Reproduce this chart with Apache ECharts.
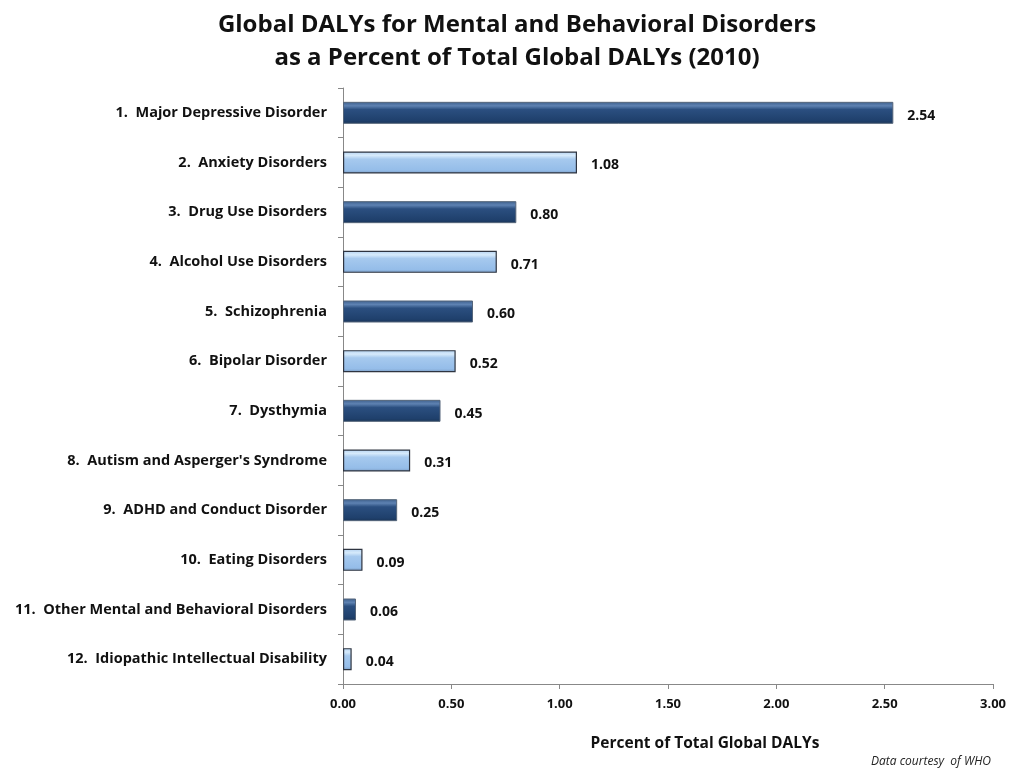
<!DOCTYPE html>
<html>
<head>
<meta charset="utf-8">
<script src="https://cdn.jsdelivr.net/npm/echarts@6/dist/echarts.min.js"></script>
<style>
html, body { margin: 0; padding: 0; background: #fff; }
#chart { width: 1014px; height: 769px; }
</style>
</head>
<body>
<div id="chart"></div>
<script>
const categories = [
	'1.  Major Depressive Disorder',
	'2.  Anxiety Disorders',
	'3.  Drug Use Disorders',
	'4.  Alcohol Use Disorders',
	'5.  Schizophrenia',
	'6.  Bipolar Disorder',
	'7.  Dysthymia',
	"8.  Autism and Asperger's Syndrome",
	'9.  ADHD and Conduct Disorder',
	'10.  Eating Disorders',
	'11.  Other Mental and Behavioral Disorders',
	'12.  Idiopathic Intellectual Disability'
];
const values = [2.54, 1.08, 0.80, 0.71, 0.60, 0.52, 0.45, 0.31, 0.25, 0.09, 0.06, 0.04];
const xTicks = [0, 0.5, 1, 1.5, 2, 2.5, 3];

const font = '"Open Sans", Lato, sans-serif';

// alternating dark / light bars with a glossy top edge
const darkFill = new echarts.graphic.LinearGradient(0, 0, 0, 1, [
	{offset: 0, color: '#3d5f8c'},
	{offset: 0.18, color: '#5e82b2'},
	{offset: 0.35, color: '#2b4f80'},
	{offset: 0.85, color: '#1f406c'},
	{offset: 1, color: '#1a3558'}
]);
const lightFill = new echarts.graphic.LinearGradient(0, 0, 0, 1, [
	{offset: 0, color: '#b5d3f2'},
	{offset: 0.18, color: '#d6eafb'},
	{offset: 0.35, color: '#a6c9ee'},
	{offset: 0.85, color: '#95bde9'},
	{offset: 1, color: '#7c9cc2'}
]);

const barData = values.map((v, i) => ({
	value: v,
	itemStyle: i % 2 == 0
		? {color: darkFill, borderColor: '#55657a', borderWidth: 1}
		: {color: lightFill, borderColor: '#2e3440', borderWidth: 1.2}
}));

const chart = echarts.init(document.getElementById('chart'));
chart.setOption({
	animation: false,
	textStyle: {fontFamily: font},
	title: [{
		text: 'Global DALYs for Mental and Behavioral Disorders\nas a Percent of Total Global DALYs (2010)',
		left: 512,
		top: 4,
		textAlign: 'center',
		textStyle: {fontFamily: font, fontSize: 24, fontWeight: 'bold', color: '#111', lineHeight: 33}
	}, {
		text: 'Data courtesy  of WHO',
		right: 18,
		top: 751,
		textStyle: {fontFamily: font, fontSize: 12, fontStyle: 'italic', fontWeight: 'normal', color: '#222'}
	}],
	grid: {left: 343, right: 21, top: 88, bottom: 85},
	xAxis: {
		type: 'value',
		min: 0,
		max: 3,
		interval: 0.5,
		name: 'Percent of Total Global DALYs',
		nameLocation: 'middle',
		nameGap: 52,
		nameTextStyle: {fontFamily: font, fontSize: 15.5, fontWeight: 'bold', color: '#111', padding: [0, 0, 0, 74]},
		axisLine: {show: true, lineStyle: {color: '#888'}},
		axisTick: {show: true, length: 5, lineStyle: {color: '#888'}},
		splitLine: {show: false},
		axisLabel: {
			fontFamily: font, fontSize: 13, fontWeight: 'bold', color: '#111', margin: 14,
			formatter: v => xTicks.includes(v) ? v.toFixed(2) : ''
		}
	},
	yAxis: {
		type: 'category',
		data: categories,
		inverse: true,
		axisLine: {show: true, lineStyle: {color: '#888'}},
		axisTick: {show: true, length: 5, lineStyle: {color: '#888'}},
		axisLabel: {fontFamily: font, fontSize: 14.5, fontWeight: 'bold', color: '#111', margin: 16}
	},
	series: [{
		type: 'bar',
		data: barData,
		barWidth: 22,
		label: {
			show: true,
			position: 'right',
			distance: 14,
			offset: [0, 3],
			fontFamily: font,
			fontSize: 14,
			fontWeight: 'bold',
			color: '#111',
			formatter: p => p.value.toFixed(2)
		}
	}]
});
</script>
</body>
</html>
